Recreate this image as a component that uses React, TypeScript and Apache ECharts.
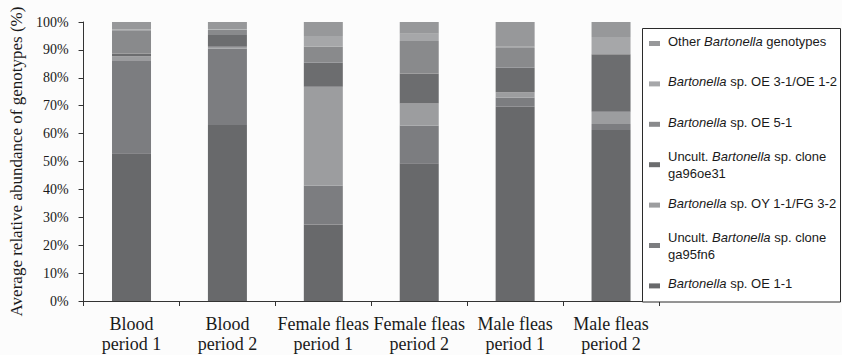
import React, { useEffect, useRef } from "react";
import * as echarts from "echarts";

const categories = [
  "Blood\nperiod 1",
  "Blood\nperiod 2",
  "Female fleas\nperiod 1",
  "Female fleas\nperiod 2",
  "Male fleas\nperiod 1",
  "Male fleas\nperiod 2",
];

const seriesNames = [
  "Bartonella sp. OE 1-1",
  "Uncult. Bartonella sp. clone ga95fn6",
  "Bartonella sp. OY 1-1/FG 3-2",
  "Uncult. Bartonella sp. clone ga96oe31",
  "Bartonella sp. OE 5-1",
  "Bartonella sp. OE 3-1/OE 1-2",
  "Other Bartonella genotypes",
];

// legend labels (rich text), same order as seriesNames
const legendLabels = [
  "{i|Bartonella} sp. OE 1-1",
  "Uncult. {i|Bartonella} sp. clone\nga95fn6",
  "{i|Bartonella} sp. OY 1-1/FG 3-2",
  "Uncult. {i|Bartonella} sp. clone\nga96oe31",
  "{i|Bartonella} sp. OE 5-1",
  "{i|Bartonella} sp. OE 3-1/OE 1-2",
  "Other {i|Bartonella} genotypes",
];

const oe11 = [53.0, 63.1, 27.4, 49.4, 69.6, 61.3];
const ga95fn6 = [33.3, 27.4, 14.0, 13.5, 3.3, 2.1];
const oy11 = [1.4, 0.6, 35.4, 7.9, 1.9, 4.4];
const ga96oe31 = [1.0, 4.2, 8.6, 10.7, 8.8, 20.6];
const oe51 = [8.3, 1.9, 5.7, 11.7, 7.1, 0];
const oe31 = [0.3, 0.2, 3.9, 2.6, 0.4, 6.2];
const other = [2.7, 2.6, 5.0, 4.2, 8.9, 5.4];

const seriesValues = [oe11, ga95fn6, oy11, ga96oe31, oe51, oe31, other];

const colors = [
  "#68696b",
  "#7c7d80",
  "#9c9d9f",
  "#6c6d6f",
  "#898a8c",
  "#a6a7a9",
  "#97989a",
];

const SANS = "Liberation Sans";
const SERIF = "Liberation Serif";

export default function App() {
  const ref = useRef<HTMLDivElement>(null);

  useEffect(() => {
    if (!ref.current) return;
    const chart = echarts.init(ref.current, undefined, { renderer: "svg" });

    const legendTop = 43.5;
    const legendStep = 40.4;
    const legendItems: any[] = [];
    for (let k = 0; k < seriesNames.length; k++) {
      const idx = seriesNames.length - 1 - k;
      const cy = legendTop + k * legendStep;
      const twoLine = legendLabels[idx].indexOf("\n") >= 0;
      legendItems.push({
        type: "rect",
        shape: { x: 649, y: cy - 2.5, width: 11, height: 5 },
        style: { fill: colors[idx] },
        z: 101,
      });
      legendItems.push({
        type: "text",
        x: 668,
        y: twoLine ? cy : cy - 2,
        style: {
          text: legendLabels[idx],
          fill: "#1a1a1a",
          fontSize: 13,
          fontFamily: SANS,
          lineHeight: 17,
          verticalAlign: "middle",
          align: "left",
          rich: {
            i: {
              fontStyle: "italic",
              fontSize: 13,
              fontFamily: SANS,
              fill: "#1a1a1a",
              lineHeight: 17,
            },
          },
        },
        z: 101,
      });
    }

    chart.setOption({
      animation: false,
      backgroundColor: "#fcfcfc",
      grid: { left: 80, right: 183, top: 22, bottom: 54 },
      xAxis: {
        type: "category",
        data: categories,
        axisLine: { show: true, lineStyle: { color: "#333", width: 1 } },
        axisTick: { show: true, length: 5, lineStyle: { color: "#333" } },
        axisLabel: {
          color: "#1a1a1a",
          fontFamily: SERIF,
          fontSize: 18,
          lineHeight: 20,
          margin: 13,
          interval: 0,
        },
      },
      yAxis: {
        type: "value",
        min: 0,
        max: 100,
        interval: 10,
        name: "Average relative abundance of genotypes (%)",
        nameLocation: "middle",
        nameGap: 58,
        nameTextStyle: {
          color: "#1a1a1a",
          fontFamily: SERIF,
          fontSize: 17,
        },
        axisLine: { show: true, lineStyle: { color: "#333", width: 1 } },
        axisTick: { show: true, length: 5, lineStyle: { color: "#333" } },
        splitLine: { show: false },
        axisLabel: {
          formatter: "{value}%",
          color: "#1a1a1a",
          fontFamily: SERIF,
          fontSize: 14,
          margin: 15,
        },
      },
      series: seriesNames.map((name, i) => ({
        name,
        type: "bar",
        stack: "total",
        barWidth: 39,
        data: seriesValues[i],
        itemStyle: { color: colors[i] },
      })),
      graphic: [
        {
          type: "rect",
          shape: { x: 642.5, y: 28.5, width: 198, height: 273.5 },
          style: { fill: "#ffffff", stroke: "#2a2a2a", lineWidth: 1 },
          z: 100,
        },
        ...legendItems,
      ],
    });

    return () => {
      chart.dispose();
    };
  }, []);

  return (
    <div
      ref={ref}
      style={{ position: "fixed", left: 0, top: 0, width: 842, height: 355 }}
    />
  );
}
